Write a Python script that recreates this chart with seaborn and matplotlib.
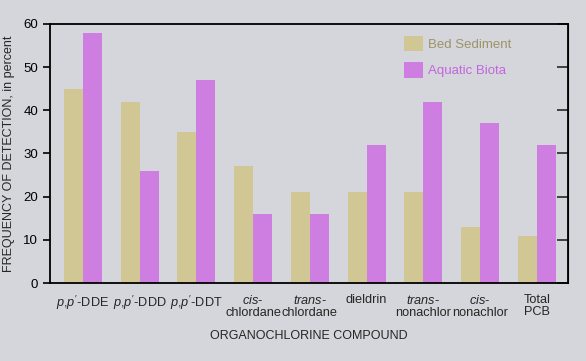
import pandas as pd
import matplotlib.pyplot as plt
import seaborn as sns
from matplotlib.patches import Patch

compounds = [r"$\mathit{p{,}p'}$-DDE", r"$\mathit{p{,}p'}$-DDD", r"$\mathit{p{,}p'}$-DDT",
             "$\\mathit{cis}$-\nchlordane", "$\\mathit{trans}$-\nchlordane", "dieldrin",
             "$\\mathit{trans}$-\nnonachlor", "$\\mathit{cis}$-\nnonachlor", "Total\nPCB"]
bed_sediment = [45, 42, 35, 27, 21, 21, 21, 13, 11]
aquatic_biota = [58, 26, 47, 16, 16, 32, 42, 37, 32]
series = ["Bed Sediment", "Aquatic Biota"]
colors = ["#d1c795", "#cd7ee0"]
text_colors = ["#9c9466", "#c266dc"]

data = pd.DataFrame({
    "compound": compounds * 2,
    "series": [series[0]] * len(compounds) + [series[1]] * len(compounds),
    "value": bed_sediment + aquatic_biota,
})

bg = "#d5d5dc"
sns.set_style("ticks")
plt.rcParams["font.family"] = ["Liberation Sans", "DejaVu Sans"]
plt.rcParams["mathtext.fontset"] = "custom"
plt.rcParams["mathtext.rm"] = "Liberation Sans"
plt.rcParams["mathtext.it"] = "Liberation Sans:italic"

fig = plt.figure(figsize=(5.86, 3.61), dpi=100, facecolor=bg)
ax = fig.add_axes([50 / 586, 1 - 283 / 361, 518 / 586, 259 / 361])
ax.set_facecolor(bg)

sns.barplot(data=data, x="compound", y="value", hue="series", palette=colors,
            width=0.667, gap=0, saturation=1, linewidth=0, ax=ax, legend=False)

ax.set_ylim(0, 60)
ax.set_xlim(-0.58, 8.55)
ax.set_yticks(range(0, 61, 10))
ax.tick_params(axis="y", direction="out", length=5, width=1.2, labelsize=9.5, colors="black")
ax.tick_params(axis="x", length=0, labelsize=9.2, pad=8)
for lab in ax.get_xticklabels():
    lab.set_linespacing(0.95)
for s in ax.spines.values():
    s.set_visible(True)
    s.set_linewidth(1.3)
    s.set_color("black")

sec = ax.secondary_yaxis("right")
sec.set_yticks(range(0, 61, 10))
sec.tick_params(direction="in", length=8, width=1.2, labelright=False)

ax.set_xlabel("ORGANOCHLORINE COMPOUND", fontsize=9, labelpad=8)
ax.set_ylabel("FREQUENCY OF DETECTION, in percent", fontsize=9, labelpad=6)

handles = [Patch(facecolor=c, edgecolor="none") for c in colors]
leg = ax.legend(handles, series, loc="upper left", bbox_to_anchor=(0.683, 0.955),
                frameon=False, fontsize=9.5, handlelength=1.45, handleheight=1.45,
                handletextpad=0.4, labelspacing=0.8, borderpad=0, borderaxespad=0)
for t, c in zip(leg.get_texts(), text_colors):
    t.set_color(c)

fig.savefig("out.png", dpi=100, facecolor=bg)
